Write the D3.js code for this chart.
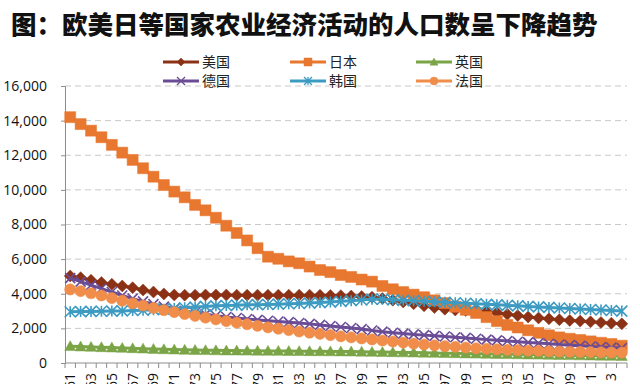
<!DOCTYPE html>
<html><head><meta charset="utf-8">
<script src="https://cdn.jsdelivr.net/npm/d3@7"></script>
<style>html,body{margin:0;padding:0;background:#fff;}svg{display:block;}</style>
</head><body>
<script>
const years = [1961,1962,1963,1964,1965,1966,1967,1968,1969,1970,1971,1972,1973,1974,1975,1976,1977,1978,1979,1980,
1981,1982,1983,1984,1985,1986,1987,1988,1989,1990,1991,1992,1993,1994,1995,1996,1997,1998,1999,2000,
2001,2002,2003,2004,2005,2006,2007,2008,2009,2010,2011,2012,2013,2014];
const yTicks = [0,2000,4000,6000,8000,10000,12000,14000,16000];
const usa = [5030,4930,4780,4650,4550,4450,4350,4220,4100,3990,3930,3920,3920,3930,3930,3930,3920,3920,3920,3920,
3920,3920,3920,3920,3910,3900,3890,3870,3840,3800,3720,3630,3530,3420,3300,3200,3110,3060,3030,3000,
2960,2900,2820,2740,2660,2600,2550,2500,2460,2420,2380,2340,2300,2260];
const japan = [14200,13800,13420,13040,12600,12150,11730,11250,10760,10280,9900,9570,9130,8820,8390,7930,7510,7080,6630,6140,
6020,5870,5760,5570,5370,5250,5080,4970,4820,4700,4450,4260,4100,3950,3800,3620,3460,3250,3070,2890,
2650,2420,2200,2050,1890,1740,1600,1480,1400,1330,1250,1170,1100,1000];
const uk = [970,950,930,910,890,870,850,830,810,790,775,760,750,740,730,720,715,710,705,700,
695,690,685,680,675,670,665,660,650,640,630,620,610,600,590,580,570,560,550,540,
530,520,510,500,490,480,470,460,450,440,430,420,410,400];
const germany = [4900,4700,4500,4300,4100,3900,3720,3560,3400,3260,3130,3010,2900,2810,2730,2660,2600,2540,2490,2440,
2400,2360,2310,2260,2200,2140,2080,2020,1960,1880,1810,1750,1700,1650,1610,1570,1530,1490,1450,1400,
1350,1310,1270,1230,1190,1150,1110,1070,1030,990,950,920,890,860];
const korea = [2960,2970,2980,2990,3000,3010,3030,3050,3080,3110,3150,3190,3230,3270,3300,3320,3340,3360,3370,3380,
3400,3420,3440,3460,3490,3520,3560,3600,3640,3680,3680,3650,3620,3600,3570,3540,3510,3480,3450,3420,
3390,3360,3330,3300,3270,3240,3210,3180,3150,3120,3090,3060,3030,3000];
const france = [4250,4150,4030,3900,3750,3600,3450,3320,3180,3050,2940,2830,2720,2620,2520,2420,2330,2240,2150,2060,
1980,1900,1820,1750,1680,1610,1540,1480,1420,1360,1300,1240,1180,1120,1070,1020,970,930,890,850,
820,790,760,740,720,700,680,660,650,640,630,620,610,600];
const seriesNames = ["美国","日本","英国","德国","韩国","法国"];
const seriesValues = [usa, japan, uk, germany, korea, france];
const colors = ["#8B3216","#E8772F","#7BA446","#6A4C96","#3D9BC2","#F08D4A"];
const markers = ["diamond","square","triangle","x","star","circle"];

const W = 640, H = 384;
const svg = d3.select("body").append("svg").attr("width", W).attr("height", H);

// Title
svg.append("text").attr("x", 11).attr("y", 34)
  .attr("font-family", "'Noto Sans CJK SC', sans-serif").attr("font-weight", 900)
  .attr("font-size", 25.5).attr("fill", "#111")
  .text("图：欧美日等国家农业经济活动的人口数呈下降趋势");

const pLeft = 65, pRight = 627, pTop = 86, pBottom = 363;
const x = d3.scaleBand().domain(years).range([pLeft, pRight]).padding(0);
const y = d3.scaleLinear().domain([0, 16000]).range([pBottom, pTop]);

// gridlines
svg.append("g").selectAll("line").data(yTicks.filter(d => d > 0)).join("line")
  .attr("x1", pLeft).attr("x2", pRight).attr("y1", d => y(d)).attr("y2", d => y(d))
  .attr("stroke", "#c9c9c9").attr("stroke-width", 1).attr("stroke-dasharray", "6,4");

// Y axis
const yAxis = svg.append("g").attr("transform", `translate(${pLeft},0)`)
  .call(d3.axisLeft(y).tickValues(yTicks).tickSize(4).tickFormat(d3.format(",")));
yAxis.select(".domain").attr("stroke", "#8c8c8c");
yAxis.selectAll(".tick line").attr("stroke", "#8c8c8c");
yAxis.selectAll("text").attr("font-family", "'Open Sans', sans-serif").attr("font-size", 14)
  .attr("fill", "#111").attr("x", -18);

// X axis
const xg = svg.append("g").attr("transform", `translate(0,${pBottom})`);
xg.append("line").attr("x1", pLeft).attr("x2", pRight).attr("stroke", "#8c8c8c");
xg.selectAll("line.t").data(years.concat([null])).join("line").attr("class", "t")
  .attr("x1", (d, i) => i < years.length ? x(d) : pRight)
  .attr("x2", (d, i) => i < years.length ? x(d) : pRight)
  .attr("y1", 0).attr("y2", 5).attr("stroke", "#8c8c8c");
xg.selectAll("text.lbl").data(years.filter((d, i) => i % 2 === 0)).join("text").attr("class", "lbl")
  .attr("transform", d => `translate(${x(d) + x.bandwidth() / 2 + 5},10) rotate(-90)`)
  .attr("text-anchor", "end")
  .attr("font-family", "'Open Sans', sans-serif").attr("font-size", 14).attr("fill", "#111")
  .text(d => String(d));

function markerPath(type, r) {
  switch (type) {
    case "diamond": return `M0,${-r}L${r},0L0,${r}L${-r},0Z`;
    case "square": return `M${-r},${-r}H${r}V${r}H${-r}Z`;
    case "triangle": return `M0,${-r}L${r},${r * 0.8}L${-r},${r * 0.8}Z`;
    case "x": return `M${-r},${-r}L${r},${r}M${-r},${r}L${r},${-r}`;
    case "star": return `M${-r},${-r}L${r},${r}M${-r},${r}L${r},${-r}M0,${-r}V${r}`;
    case "circle": return d3.arc()({innerRadius: 0, outerRadius: r, startAngle: 0, endAngle: 2 * Math.PI});
  }
}
const sizes = {diamond: 6, square: 5.5, triangle: 5.5, x: 5, star: 5.5, circle: 5.6};

const line = d3.line().x((d, i) => x(years[i]) + x.bandwidth() / 2).y(d => y(d));

seriesValues.forEach((vals, si) => {
  const g = svg.append("g");
  g.append("path").datum(vals).attr("d", line).attr("fill", "none")
    .attr("stroke", colors[si]).attr("stroke-width", 3);
  const m = markers[si];
  const open = (m === "x" || m === "star");
  g.selectAll("path.m").data(vals).join("path").attr("class", "m")
    .attr("transform", (d, i) => `translate(${x(years[i]) + x.bandwidth() / 2},${y(d)})`)
    .attr("d", markerPath(m, sizes[m]))
    .attr("fill", open ? "none" : colors[si])
    .attr("stroke", colors[si]).attr("stroke-width", open ? 1.6 : 0.5);
});

// Legend
const legX = [163, 290, 416], legY = [62, 81];
seriesNames.forEach((name, i) => {
  const lx = legX[i % 3], ly = legY[Math.floor(i / 3)];
  const g = svg.append("g").attr("transform", `translate(${lx},${ly})`);
  g.append("line").attr("x1", 0).attr("x2", 36).attr("stroke", colors[i]).attr("stroke-width", 3);
  const m = markers[i];
  const open = (m === "x" || m === "star");
  g.append("path").attr("transform", "translate(18,0)").attr("d", markerPath(m, 4))
    .attr("fill", open ? "none" : colors[i]).attr("stroke", colors[i]).attr("stroke-width", open ? 1.3 : 0.5);
  g.append("text").attr("x", 39).attr("y", 5).attr("font-family", "'Noto Sans CJK SC', sans-serif")
    .attr("font-size", 14).attr("fill", "#222").text(name);
});
</script>
</body></html>
